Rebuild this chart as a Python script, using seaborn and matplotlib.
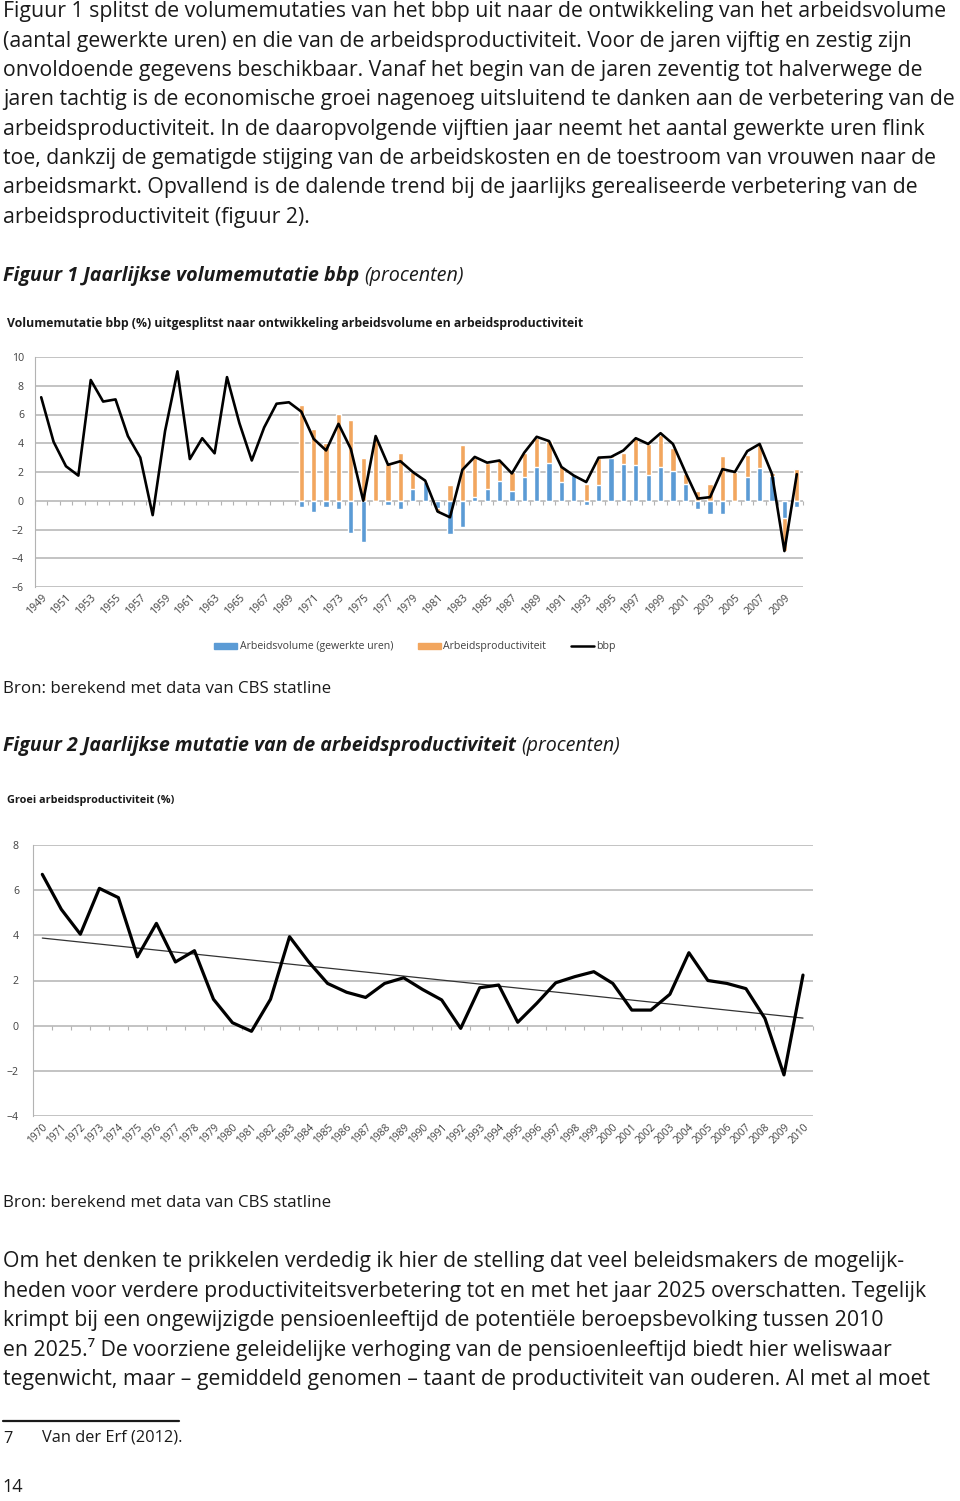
import numpy as np
import pandas as pd
import matplotlib
matplotlib.use("Agg")
import matplotlib.pyplot as plt
import seaborn as sns
from matplotlib.patches import Patch
from matplotlib.lines import Line2D

# ---- data figuur 1 (1949-2010) ----
years1 = list(range(1949, 2011))
bbp = [7.2, 4.1, 2.4, 1.75, 8.4, 6.9, 7.05, 4.5, 3.0, -1.0,
       4.85, 9.0, 2.9, 4.35, 3.3, 8.6, 5.4, 2.8, 5.1, 6.75,
       6.85, 6.2, 4.3, 3.5, 5.35, 3.6, 0.0, 4.5, 2.5, 2.75,
       2.0, 1.4, -0.75, -1.15, 2.15, 3.05, 2.65, 2.8, 1.9, 3.35,
       4.45, 4.15, 2.35, 1.75, 1.3, 3.0, 3.05, 3.5, 4.35, 3.95,
       4.7, 3.95, 2.0, 0.15, 0.25, 2.2, 2.0, 3.45, 3.95, 1.85,
       -3.5, 1.85]
bar_years = list(range(1970, 2011))
arbeidsvolume = [-0.45, -0.75, -0.45, -0.6, -2.25, -2.9, 0.0, -0.3, -0.55, 0.8,
                 1.3, -0.5, -2.3, -1.8, 0.25, 0.8, 1.35, 0.7, 1.65, 2.35,
                 2.65, 1.3, 1.8, -0.3, 1.1, 3.0, 2.55, 2.5, 1.8, 2.35,
                 2.1, 1.2, -0.55, -0.95, -0.95, 0.0, 1.65, 2.25, 1.75, -1.2, -0.45]
arbeidsprod = [6.65, 5.0, 4.05, 6.05, 5.65, 3.0, 4.5, 2.55, 3.3, 1.2,
               0.05, -0.3, 1.1, 3.9, 2.75, 1.8, 1.5, 1.3, 1.65, 2.05,
               1.5, 1.1, -0.1, 1.15, 1.9, 0.1, 0.8, 1.8, 2.15, 2.25,
               1.6, 0.65, 0.65, 1.2, 3.1, 2.0, 1.5, 1.65, 0.15, -2.3, 2.2]

# ---- data figuur 2 (1970-2010) ----
years2 = list(range(1970, 2011))
groei_prod = [6.7, 5.15, 4.05, 6.08, 5.67, 3.05, 4.53, 2.82, 3.32, 1.17,
              0.13, -0.25, 1.17, 3.94, 2.83, 1.87, 1.48, 1.25, 1.87, 2.12,
              1.6, 1.14, -0.12, 1.68, 1.8, 0.15, 0.99, 1.9, 2.17, 2.39,
              1.87, 0.69, 0.69, 1.39, 3.23, 2.0, 1.87, 1.64, 0.32, -2.18, 2.24]

BLUE = '#5B9BD5'
ORANGE = '#F2A65E'
GRID = '#b3b3b3'
TICK = '#404040'

sns.set_style('white')
plt.rcParams['font.family'] = ['Open Sans', 'DejaVu Sans']

W, H = 960, 1501
fig = plt.figure(figsize=(W / 100, H / 100), dpi=100)


def put(x, y, s, **kw):
    kw.setdefault('va', 'center')
    kw.setdefault('color', '#1a1a1a')
    return fig.text(x / W, 1 - y / H, s, **kw)


def axes_px(left, top, right, bottom):
    return fig.add_axes([left / W, 1 - bottom / H, (right - left) / W, (bottom - top) / H])


def heading(y, bold, rest, size):
    t = put(3, y, bold, fontsize=size, fontweight='bold', style='italic')
    r = fig.canvas.get_renderer()
    bb = t.get_window_extent(renderer=r)
    put(bb.x1 + 5, y, rest, fontsize=size, style='italic')


body1 = ["Figuur 1 splitst de volumemutaties van het bbp uit naar de ontwikkeling van het arbeidsvolume",
         "(aantal gewerkte uren) en die van de arbeidsproductiviteit. Voor de jaren vijftig en zestig zijn",
         "onvoldoende gegevens beschikbaar. Vanaf het begin van de jaren zeventig tot halverwege de",
         "jaren tachtig is de economische groei nagenoeg uitsluitend te danken aan de verbetering van de",
         "arbeidsproductiviteit. In de daaropvolgende vijftien jaar neemt het aantal gewerkte uren flink",
         "toe, dankzij de gematigde stijging van de arbeidskosten en de toestroom van vrouwen naar de",
         "arbeidsmarkt. Opvallend is de dalende trend bij de jaarlijks gerealiseerde verbetering van de",
         "arbeidsproductiviteit (figuur 2)."]
for i, line in enumerate(body1):
    put(3, 12 + i * 29.3, line, fontsize=15.3)

heading(276, "Figuur 1 Jaarlijkse volumemutatie bbp", "(procenten)", 14.2)
put(7, 323, "Volumemutatie bbp (%) uitgesplitst naar ontwikkeling arbeidsvolume en arbeidsproductiviteit",
    fontsize=8.8, fontweight='bold')

# ---- figuur 1 ----
ax1 = axes_px(35, 357, 803, 587)
vol = np.array(arbeidsvolume)
prod = np.array(arbeidsprod)
# Excel-style stacking: same sign -> orange on top of blue, otherwise both from zero
orange_top = np.where(np.sign(vol) == np.sign(prod), vol + prod, prod)
order1 = [str(y) for y in years1]
df_bars = pd.DataFrame({'jaar': [str(y) for y in bar_years], 'vol': vol, 'top': orange_top})
sns.barplot(data=df_bars, x='jaar', y='top', order=order1, color=ORANGE, saturation=1,
            width=0.42, ax=ax1, zorder=2)
sns.barplot(data=df_bars, x='jaar', y='vol', order=order1, color=BLUE, saturation=1,
            width=0.42, ax=ax1, zorder=3)
sns.lineplot(x=np.arange(len(years1)), y=bbp, color='black', lw=1.9, ax=ax1, zorder=4)

ax1.set_ylim(-6, 10)
ax1.set_xlim(-0.5, len(years1) - 0.5)
ax1.set_yticks(range(-6, 11, 2))
ax1.yaxis.grid(True, color=GRID, lw=1.1)
ax1.set_axisbelow(True)
ax1.set_xticks(range(0, len(years1), 2))
ax1.set_xticklabels([str(y) for y in years1[::2]], rotation=45, ha='right', rotation_mode='anchor')
ax1.set_xlabel('')
ax1.set_ylabel('')
ax1.tick_params(axis='x', length=0, pad=4, labelsize=7.6, labelcolor=TICK)
ax1.tick_params(axis='y', length=3, color=GRID, pad=5, labelsize=7.6, labelcolor=TICK)
for s in ['top', 'right', 'bottom']:
    ax1.spines[s].set_visible(False)
ax1.spines['left'].set_color(GRID)
zero1 = ax1.secondary_xaxis(6 / 16)
zero1.set_xticks(np.arange(-0.5, len(years1), 1))
zero1.tick_params(direction='out', length=3, color=GRID, labelbottom=False, labeltop=False,
                  top=False, bottom=True)
zero1.spines['bottom'].set_visible(False)
zero1.spines['top'].set_visible(False)

handles = [Patch(color=BLUE), Patch(color=ORANGE), Line2D([], [], color='black', lw=1.8)]
fig.legend(handles, ['Arbeidsvolume (gewerkte uren)', 'Arbeidsproductiviteit', 'bbp'],
           loc='center', bbox_to_anchor=(415 / W, 1 - 647 / H), ncol=3, frameon=False,
           fontsize=7.6, handlelength=2.2, handleheight=0.5, handletextpad=0.25, columnspacing=2.3,
           labelcolor=TICK)

put(3, 689, "Bron: berekend met data van CBS statline", fontsize=12.2)

heading(746, "Figuur 2 Jaarlijkse mutatie van de arbeidsproductiviteit", "(procenten)", 14.1)
put(7, 800, "Groei arbeidsproductiviteit (%)", fontsize=7.8, fontweight='bold')

# ---- figuur 2 ----
ax2 = axes_px(32.8, 845, 812.5, 1116)
pos2 = np.arange(len(years2))
sns.lineplot(x=pos2, y=groei_prod, color='black', lw=2.3, ax=ax2, zorder=4)
sns.regplot(x=pos2, y=np.array(groei_prod), scatter=False, ci=None, ax=ax2,
            line_kws={'color': '#333333', 'lw': 0.9, 'zorder': 3})
ax2.set_ylim(-4, 8)
ax2.set_xlim(-0.5, len(years2) - 0.5)
ax2.set_yticks(range(-4, 9, 2))
ax2.yaxis.grid(True, color=GRID, lw=1.1)
ax2.set_axisbelow(True)
ax2.set_xticks(pos2)
ax2.set_xticklabels([str(y) for y in years2], rotation=45, ha='right', rotation_mode='anchor')
ax2.set_xlabel('')
ax2.set_ylabel('')
ax2.tick_params(axis='x', length=0, pad=4, labelsize=7.4, labelcolor=TICK)
ax2.tick_params(axis='y', length=3, color=GRID, pad=7, labelsize=7.6, labelcolor=TICK)
for s in ['top', 'right', 'bottom']:
    ax2.spines[s].set_visible(False)
ax2.spines['left'].set_color(GRID)
zero2 = ax2.secondary_xaxis(4 / 12)
zero2.set_xticks(np.arange(-0.5, len(years2), 1))
zero2.tick_params(direction='out', length=3, color=GRID, labelbottom=False, labeltop=False,
                  top=False, bottom=True)
zero2.spines['bottom'].set_visible(False)
zero2.spines['top'].set_visible(False)

put(3, 1203, "Bron: berekend met data van CBS statline", fontsize=12.2)

body2 = ["Om het denken te prikkelen verdedig ik hier de stelling dat veel beleidsmakers de mogelijk-",
         "heden voor verdere productiviteitsverbetering tot en met het jaar 2025 overschatten. Tegelijk",
         "krimpt bij een ongewijzigde pensioenleeftijd de potentiële beroepsbevolking tussen 2010",
         "en 2025.\u2077 De voorziene geleidelijke verhoging van de pensioenleeftijd biedt hier weliswaar",
         "tegenwicht, maar \u2013 gemiddeld genomen \u2013 taant de productiviteit van ouderen. Al met al moet"]
for i, line in enumerate(body2):
    put(3, 1262 + i * 29.3, line, fontsize=15.3)

fig.add_artist(Line2D([3 / W, 179 / W], [1 - 1421 / H, 1 - 1421 / H], color='#1a1a1a', lw=1.6))
put(3, 1439, "7", fontsize=11.8)
put(42, 1438, "Van der Erf (2012).", fontsize=11.8)
put(2, 1487, "14", fontsize=13)

fig.savefig('out.png', dpi=100)
